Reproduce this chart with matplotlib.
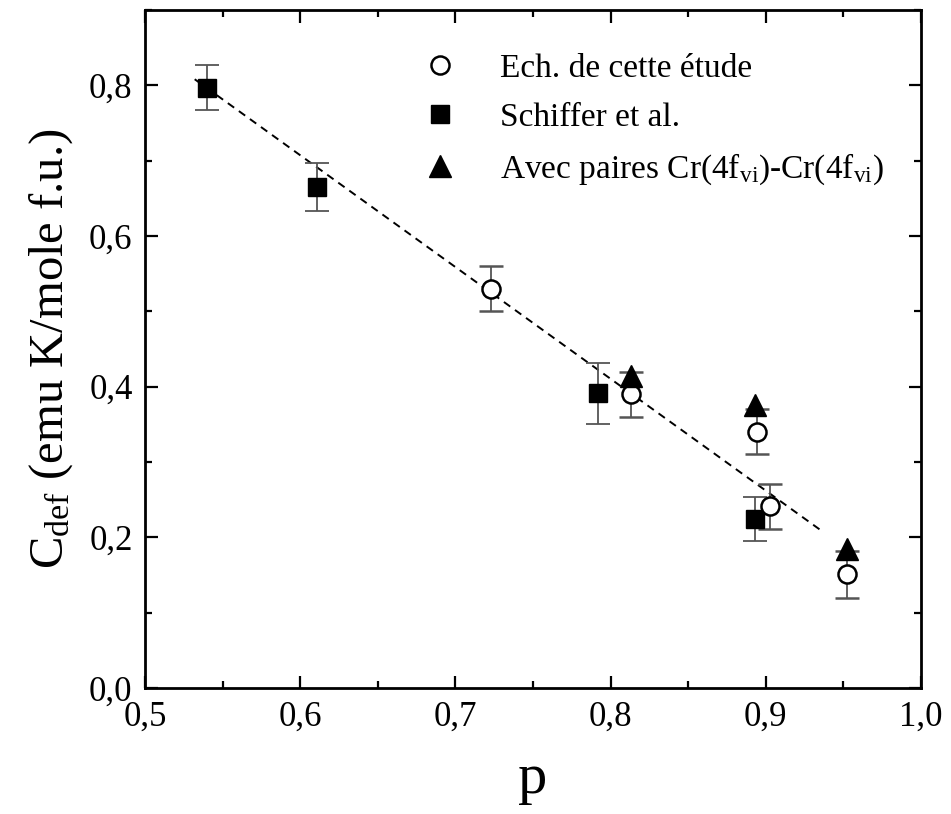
import matplotlib
matplotlib.use("Agg")
import matplotlib.pyplot as plt
from matplotlib.ticker import MultipleLocator, FuncFormatter

# Ech. de cette etude (open circles)
p_etude = [0.723, 0.813, 0.894, 0.903, 0.952]
c_etude = [0.530, 0.390, 0.340, 0.241, 0.151]
err_etude = [0.030, 0.030, 0.030, 0.030, 0.031]

# Schiffer et al. (filled squares)
p_schiffer = [0.540, 0.611, 0.792, 0.893]
c_schiffer = [0.797, 0.665, 0.391, 0.224]
err_schiffer = [0.030, 0.032, 0.040, 0.029]

# Avec paires Cr(4f_vi)-Cr(4f_vi) (filled triangles)
p_paires = [0.813, 0.893, 0.952]
c_paires = [0.414, 0.375, 0.184]

# dashed linear fit
p_fit = [0.532, 0.937]
c_fit = [0.808, 0.207]

plt.rcParams["font.family"] = ["Liberation Serif", "DejaVu Serif"]
plt.rcParams["mathtext.fontset"] = "custom"
plt.rcParams["mathtext.rm"] = "Liberation Serif"
plt.rcParams["mathtext.it"] = "Liberation Serif:italic"

fig = plt.figure(figsize=(9.51, 8.14), dpi=100)
ax = fig.add_axes([0.1525, 0.1548, 0.816, 0.833])

ax.plot(p_fit, c_fit, linestyle=(0, (4, 3)), color="black", lw=1.4, zorder=1)

ebar = dict(ecolor="#555555", elinewidth=1.3, capsize=8.5, capthick=1.3, linestyle="none")
sq = ax.errorbar(p_schiffer, c_schiffer, yerr=err_schiffer, marker="s", ms=13.5,
                 mfc="black", mec="black", zorder=3, **ebar)
ci = ax.errorbar(p_etude, c_etude, yerr=err_etude, marker="o", ms=13, mfc="white",
                 mec="black", mew=1.8, zorder=3, **ebar)
tr, = ax.plot(p_paires, c_paires, linestyle="none", marker="^", ms=16, color="black",
              zorder=4)

ax.set_xlim(0.5, 1.0)
ax.set_ylim(0.0, 0.9)
ax.xaxis.set_major_locator(MultipleLocator(0.1))
ax.xaxis.set_minor_locator(MultipleLocator(0.05))
ax.yaxis.set_major_locator(MultipleLocator(0.2))
ax.yaxis.set_minor_locator(MultipleLocator(0.1))
fmt = FuncFormatter(lambda v, pos: f"{v:.1f}".replace(".", ","))
ax.xaxis.set_major_formatter(fmt)
ax.yaxis.set_major_formatter(fmt)

ax.tick_params(which="both", direction="in", top=True, right=True, width=1.6,
               labelsize=25)
ax.tick_params(which="major", length=9, pad=9)
ax.tick_params(which="minor", length=5)
for s in ax.spines.values():
    s.set_linewidth(2)

ax.set_xlabel("p", fontsize=42, labelpad=14)
ax.set_ylabel(r"C$_{\mathrm{def}}$ (emu K/mole f.u.)", fontsize=35, labelpad=10)

ax.legend([ci[0], sq[0], tr],
          ["Ech. de cette étude", "Schiffer et al.",
           r"Avec paires Cr(4f$_{\mathrm{vi}}$)-Cr(4f$_{\mathrm{vi}}$)"],
          loc="upper right", bbox_to_anchor=(0.99, 0.98), frameon=False,
          fontsize=24, handlelength=1.0, handletextpad=1.3, labelspacing=0.55,
          numpoints=1)

fig.savefig("out.png", dpi=100)
